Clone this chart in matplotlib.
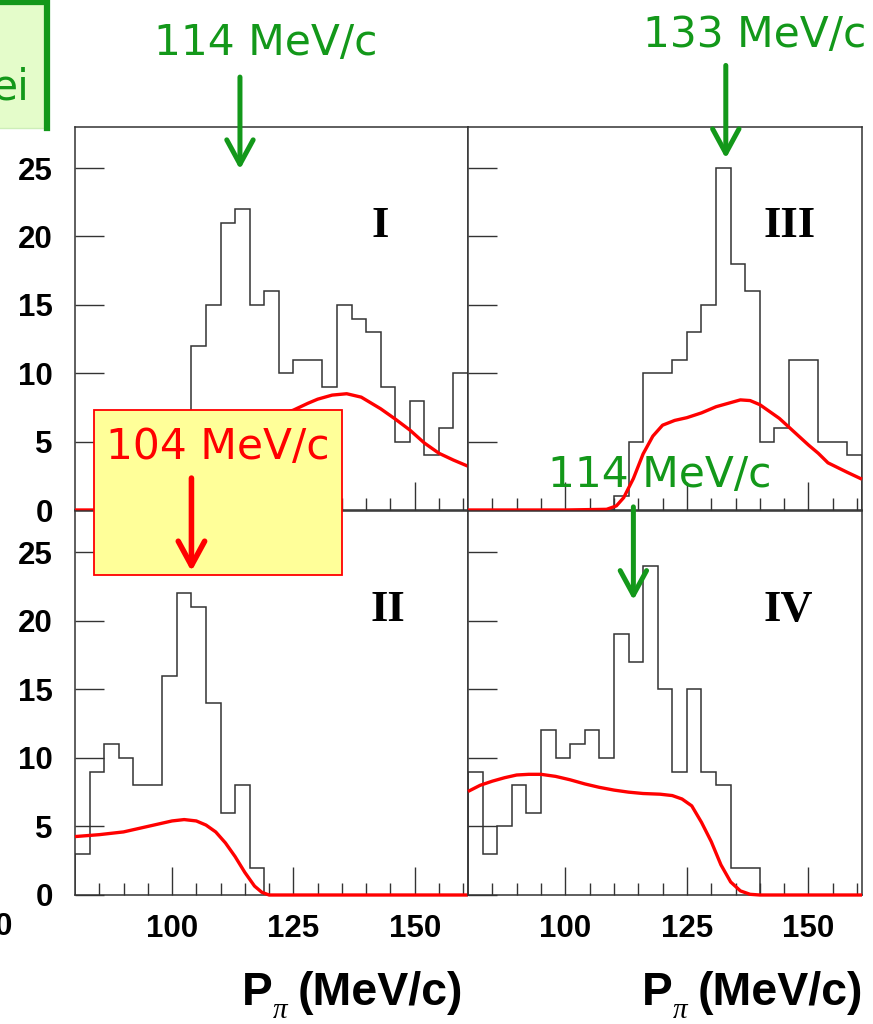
import matplotlib
matplotlib.use("Agg")
import matplotlib.pyplot as plt
from matplotlib.patches import Rectangle, FancyArrowPatch
from matplotlib.lines import Line2D

# histogram binning (MeV/c), 3 MeV/c bins
edges = [80, 83, 86, 89, 92, 95, 98, 101, 104, 107, 110, 113, 116, 119, 122,
         125, 128, 131, 134, 137, 140, 143, 146, 149, 152, 155, 158, 161]

# counts per bin
I_counts = [0, 0, 2, 3, 4, 6, 5, 7, 12, 15, 21, 22, 15, 16, 10, 11, 11, 9,
            15, 14, 13, 9, 5, 8, 4, 6, 10]
II_counts = [3, 9, 11, 10, 8, 8, 16, 22, 21, 14, 6, 8, 2, 0, 0, 0, 0, 0,
             0, 0, 0, 0, 0, 0, 0, 0, 0]
III_counts = [0, 0, 0, 0, 0, 0, 0, 0, 0, 0, 1, 5, 10, 10, 11, 13, 15, 25,
              18, 16, 5, 6, 11, 11, 5, 5, 4]
IV_counts = [9, 3, 5, 8, 6, 12, 10, 11, 12, 10, 19, 17, 24, 15, 9, 15, 9, 8,
             2, 2, 0, 0, 0, 0, 0, 0, 0]

# red curves
I_fit_x = [80, 85, 90, 95, 100, 105, 110, 115, 120, 125, 128, 130, 133, 136,
           139, 143, 146, 149, 152, 155, 158, 161]
I_fit_y = [0, 0, 0.3, 1.5, 3.2, 4.6, 5.6, 6.2, 6.7, 7.3, 7.8, 8.1, 8.4, 8.5,
           8.25, 7.4, 6.65, 5.85, 4.9, 4.15, 3.65, 3.2]
II_fit_x = [80, 85, 90, 95, 100, 102.5, 105, 107, 109, 111, 113, 115, 117,
            118.5, 120, 161]
II_fit_y = [4.26, 4.4, 4.6, 5.0, 5.4, 5.5, 5.4, 5.1, 4.6, 3.8, 2.8, 1.65,
            0.65, 0.2, 0, 0]
III_fit_x = [80, 100, 108.5, 110.5, 112, 114, 116, 118, 120, 122.5, 125, 128,
             131, 134, 136, 138, 140, 142, 144, 146, 148, 150, 152, 154, 156,
             158, 161]
III_fit_y = [0, 0, 0.05, 0.3, 0.9, 2.3, 4.1, 5.4, 6.2, 6.55, 6.75, 7.1, 7.55,
             7.85, 8.05, 8.0, 7.7, 7.2, 6.7, 6.05, 5.4, 4.75, 4.15, 3.45, 3.1,
             2.75, 2.25]
IV_fit_x = [80, 82.5, 85, 87.5, 90, 92.5, 95, 98, 101, 104, 107, 110, 113, 116,
            119.5, 122, 124, 126, 128, 130, 132, 134, 136, 138, 140, 161]
IV_fit_y = [7.55, 8.0, 8.3, 8.55, 8.75, 8.8, 8.8, 8.65, 8.4, 8.1, 7.85, 7.65,
            7.5, 7.4, 7.35, 7.25, 7.0, 6.5, 5.3, 3.9, 2.2, 0.95, 0.3, 0.05, 0, 0]

y_ticks = [0, 5, 10, 15, 20, 25]
x_ticks = [100, 125, 150]
x_minor = [85, 90, 95, 105, 110, 115, 120, 130, 135, 140, 145, 155, 160]

W, H = 873, 1024
GREEN = "#13981a"
RED = "#ff0000"
LINE = "#333333"
TICKFONT = dict(family="Liberation Sans", weight="bold", size=22.5)


def fx(x):
    return x / W


def fy(y):
    return 1 - y / H


fig = plt.figure(figsize=(W / 100, H / 100), dpi=100)

# name, counts, curve, panel box in pixels, y labels, x labels, label pos
panels = [
    ("I", I_counts, I_fit_x, I_fit_y, [75, 127, 393, 383], True, False, 0.776),
    ("III", III_counts, III_fit_x, III_fit_y, [468, 127, 394, 383], False, False, 0.817),
    ("II", II_counts, II_fit_x, II_fit_y, [75, 511, 393, 384], True, True, 0.796),
    ("IV", IV_counts, IV_fit_x, IV_fit_y, [468, 511, 394, 384], False, True, 0.812),
]
axes = {}
for name, counts, fxs, fys, (px, py, pw, ph), ylab, xlab, lx in panels:
    ax = fig.add_axes([fx(px), fy(py + ph), pw / W, ph / H])
    axes[name] = ax
    ax.stairs(counts, edges, color=LINE, lw=1.1, zorder=2)
    ax.plot(fxs, fys, color=RED, lw=2.4, zorder=3, clip_on=False,
            solid_capstyle="butt")
    ax.set_xlim(80, 161)
    ax.set_ylim(0, 28)
    ax.set_yticks(y_ticks)
    ax.set_xticks(x_ticks)
    ax.set_xticks(x_minor, minor=True)
    ax.tick_params(axis="y", direction="in", length=21, width=1, color=LINE,
                   pad=16, labelleft=ylab)
    ax.tick_params(axis="x", which="major", direction="in", length=20, width=1,
                   color=LINE, pad=14, labelbottom=xlab)
    ax.tick_params(axis="x", which="minor", direction="in", length=9, width=1,
                   color=LINE)
    for lbl in ax.get_xticklabels() + ax.get_yticklabels():
        lbl.set_fontproperties(matplotlib.font_manager.FontProperties(**TICKFONT))
    for sp in ax.spines.values():
        sp.set_color(LINE)
        sp.set_linewidth(1.1)
    ax.text(lx, 0.742, name, transform=ax.transAxes, ha="center", va="center",
            family="Liberation Serif", weight="bold", fontsize=32)

# annotation arrows (tied to the data axes)
arrow_kw = dict(arrowstyle="->,head_length=1.75,head_width=0.95",
                mutation_scale=10, capstyle="round", joinstyle="round",
                shrinkA=0, shrinkB=0, zorder=8)
for name, xv, y0, y1, col, lw in [("I", 114, 31.65, 24.9, GREEN, 3.6),
                                  ("III", 133, 32.5, 25.7, GREEN, 3.6),
                                  ("IV", 114, 28.3, 21.5, GREEN, 3.6),
                                  ("II", 104, 30.4, 23.6, RED, 4.0)]:
    arr = FancyArrowPatch((xv, y0), (xv, y1), transform=axes[name].transData,
                          color=col, lw=lw, **arrow_kw)
    fig.add_artist(arr)

# yellow box with red label
fig.add_artist(Rectangle((fx(94), fy(575)), 248 / W, 165 / H,
                         transform=fig.transFigure, facecolor="#ffff99",
                         edgecolor=RED, lw=1.3, zorder=6))
# cut-off green box at top left: thick right/top border, faint bottom
fig.add_artist(Rectangle((fx(-10), fy(128)), 57 / W, 140 / H,
                         transform=fig.transFigure, facecolor="#e4fcca",
                         edgecolor="#cdeeb8", lw=1.0, zorder=6))
fig.add_artist(Line2D([fx(0), fx(47), fx(47)], [fy(1.5), fy(1.5), fy(128)],
                      transform=fig.transFigure, color=GREEN, lw=4.5,
                      solid_joinstyle="miter", zorder=7))

ann_font = dict(family="DejaVu Sans", fontsize=30.5, va="baseline", zorder=9)
fig.text(fx(29), fy(100), "ei", color=GREEN, ha="right", **ann_font)
fig.text(fx(266), fy(55), "114 MeV/c", color=GREEN, ha="center", **ann_font)
fig.text(fx(755), fy(47), "133 MeV/c", color=GREEN, ha="center", **ann_font)
fig.text(fx(218), fy(459), "104 MeV/c", color=RED, ha="center", **ann_font)
fig.text(fx(660), fy(487), "114 MeV/c", color=GREEN, ha="center", **ann_font)

# stray tick label from the cropped neighbouring panel
fig.text(fx(12), fy(927), "0", ha="right", va="center", **TICKFONT)

# axis titles
for x0 in (242, 642):
    fig.text(fx(x0), fy(1005), "P", ha="left", va="baseline",
             family="Liberation Sans", weight="bold", fontsize=33)
    fig.text(fx(x0 + 31), fy(1018), "\u03c0", ha="left", va="baseline",
             family="Liberation Serif", style="italic", fontsize=21)
    fig.text(fx(x0 + 56), fy(1005), "(MeV/c)", ha="left", va="baseline",
             family="Liberation Sans", weight="bold", fontsize=33.5)

fig.savefig("out.png", dpi=100, facecolor="white")
